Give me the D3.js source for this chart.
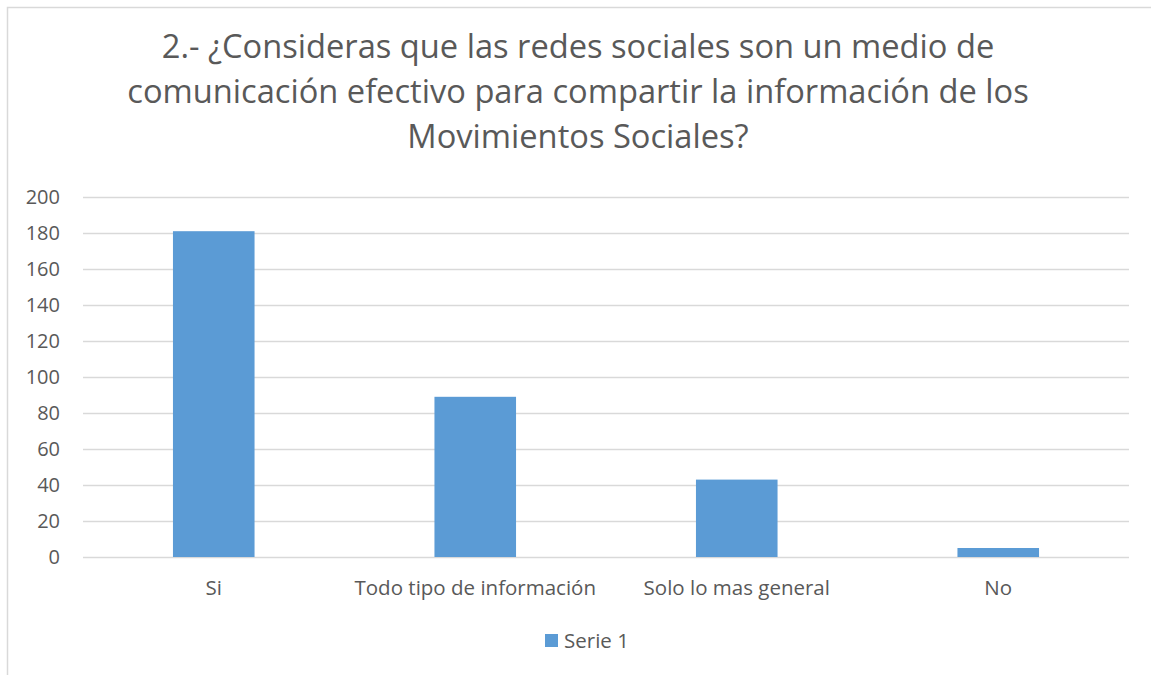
<!DOCTYPE html>
<html>
<head>
<meta charset="utf-8">
<script src="https://cdn.jsdelivr.net/npm/d3@7"></script>
<style>
  body { margin: 0; background: #fff; }
  text { font-family: "Open Sans", "Liberation Sans", sans-serif; fill: #595959; }
</style>
</head>
<body>
<div id="chart"></div>
<script>
// data
var categories = ["Si", "Todo tipo de información", "Solo lo mas general", "No"];
var values = [181, 89, 43, 5];
var yTicks = [0, 20, 40, 60, 80, 100, 120, 140, 160, 180, 200];
var titleLines = [
    "2.- ¿Consideras que las redes sociales son un medio de",
    "comunicación efectivo para compartir la información de los",
    "Movimientos Sociales?"
];
var seriesName = "Serie 1";

var width = 1151, height = 675;
var plot = { left: 83, right: 1129, top: 197, bottom: 557 };
var barColor = "#5b9bd5";

var svg = d3.select("#chart").append("svg")
    .attr("width", width)
    .attr("height", height);

// chart border (right/bottom run off the picture)
svg.append("rect")
    .attr("x", 7.5).attr("y", 7.5)
    .attr("width", width + 10).attr("height", height + 10)
    .attr("fill", "none")
    .attr("stroke", "#d9d9d9")
    .attr("stroke-width", 1.5);

// title - size it so the first line is as wide as in the original
var title = svg.append("g");
var titleText = title.selectAll("text")
    .data(titleLines)
    .enter().append("text")
    .attr("x", 578)
    .attr("y", function(d, i) { return 58 + i * 45; })
    .attr("text-anchor", "middle")
    .attr("font-size", 31)
    .text(function(d) { return d; });
var w0 = titleText.node().getComputedTextLength();
titleText.attr("font-size", 31 * 833 / w0);

// scales
var x = d3.scaleBand()
    .domain(categories)
    .range([plot.left, plot.right])
    .paddingInner(0.688)
    .paddingOuter(0.344);
var y = d3.scaleLinear()
    .domain([0, 200])
    .range([plot.bottom, plot.top]);

// gridlines
svg.append("g")
    .selectAll("line")
    .data(yTicks)
    .enter().append("line")
    .attr("x1", plot.left).attr("x2", plot.right)
    .attr("y1", function(d) { return Math.round(y(d)) + 0.5; })
    .attr("y2", function(d) { return Math.round(y(d)) + 0.5; })
    .attr("stroke", "#d9d9d9")
    .attr("stroke-width", 1.3);

// y axis labels
var yAxis = d3.axisLeft(y).tickValues(yTicks).tickSize(0).tickPadding(23);
var gy = svg.append("g")
    .attr("transform", "translate(" + plot.left + ",0)")
    .call(yAxis);
gy.select(".domain").remove();
gy.selectAll("text")
    .attr("font-size", 20)
    .attr("fill", "#595959")
    .style("font-family", "'Open Sans', sans-serif");

// bars
svg.append("g")
    .selectAll("rect")
    .data(values)
    .enter().append("rect")
    .attr("x", function(d, i) { return x(categories[i]); })
    .attr("width", x.bandwidth())
    .attr("y", function(d) { return y(d); })
    .attr("height", function(d) { return y(0) - y(d); })
    .attr("fill", barColor);

// x axis labels
var xAxis = d3.axisBottom(x).tickSize(0).tickPadding(23);
var gx = svg.append("g")
    .attr("transform", "translate(0," + plot.bottom + ")")
    .call(xAxis);
gx.select(".domain").remove();
gx.selectAll("text")
    .attr("font-size", 20.5)
    .attr("fill", "#595959")
    .style("font-family", "'Open Sans', sans-serif");

// legend
var legend = svg.append("g").attr("transform", "translate(545,634)");
legend.append("rect")
    .attr("width", 13).attr("height", 13)
    .attr("fill", barColor);
legend.append("text")
    .attr("x", 19).attr("y", 14)
    .attr("font-size", 20.5)
    .text(seriesName);
</script>
</body>
</html>
